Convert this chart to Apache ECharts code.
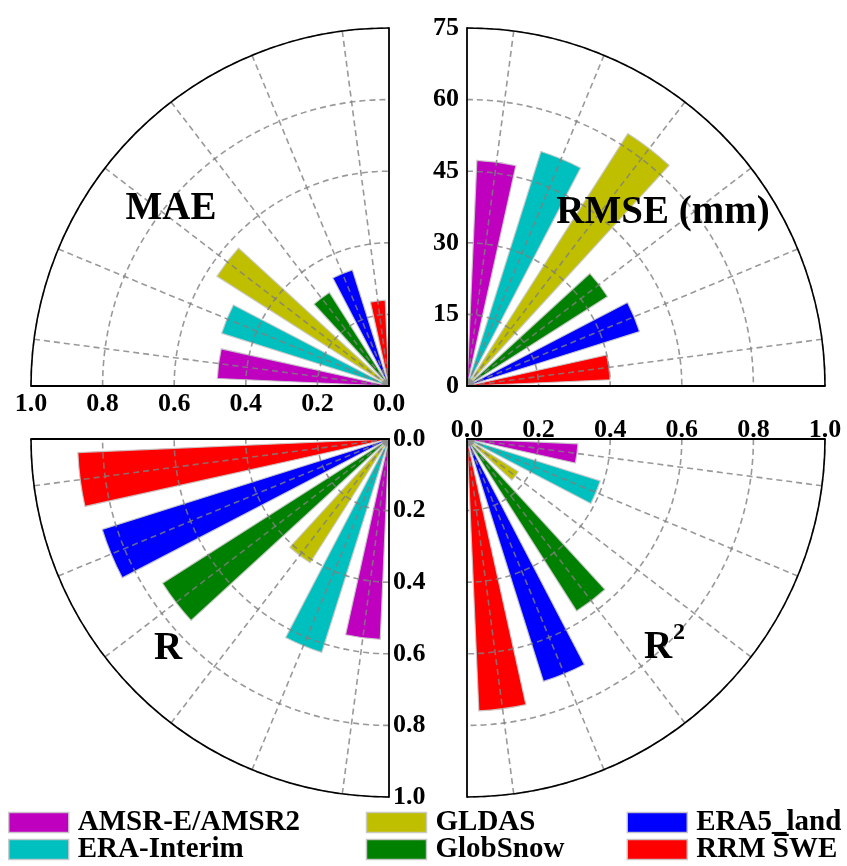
<!DOCTYPE html>
<html>
<head>
<meta charset="utf-8">
<script src="https://cdn.jsdelivr.net/npm/echarts@6/dist/echarts.min.js"></script>
<style>
  html, body { margin: 0; padding: 0; background: #fff; }
  #chart { width: 847px; height: 866px; }
</style>
</head>
<body>
<div id="chart"></div>
<script>
// Products compared in every panel (legend order)
const products = ['AMSR-E/AMSR2', 'ERA-Interim', 'GLDAS', 'GlobSnow', 'ERA5_land', 'RRM S\u0305WE'];
const colors = ['#bf00bf', '#00bfbf', '#bfbf00', '#008000', '#0000ff', '#ff0000'];

// Metric values per product
const maeValues  = [0.48, 0.49, 0.57, 0.31, 0.34, 0.24];
const rmseValues = [47.3, 51.5, 62.7, 34.9, 37.9, 30.0];
const rValues    = [0.56, 0.625, 0.41, 0.75, 0.84, 0.87];
const r2Values   = [0.31, 0.39, 0.17, 0.57, 0.71, 0.76];

// Radial scales
const unitMax = 1, unitStep = 0.2;
const rmseMax = 75, rmseStep = 15;

const FONT = '"Liberation Serif", "Times New Roman", serif';
const R = 358;

// Four quarter-disc panels: centre, angle of the labelled radius axis,
// angle of the other straight edge, values, scale, label margin
const panels = [
  { center: [389, 386], start: 180, edge: 90,  values: maeValues,  max: unitMax, step: unitStep, margin: 5, fmt: v => v.toFixed(1) },
  { center: [467, 386], start: 90,  edge: 0,   values: rmseValues, max: rmseMax, step: rmseStep, margin: 8, fmt: v => String(v) },
  { center: [389, 439], start: 270, edge: 180, values: rValues,    max: unitMax, step: unitStep, margin: 4, fmt: v => v.toFixed(1) },
  { center: [467, 439], start: 0,   edge: -90, values: r2Values,   max: unitMax, step: unitStep, margin: -4, fmt: v => v.toFixed(1) }
];

const gridLine = { color: 'rgba(128,128,128,0.8)', width: 1.6, type: [6, 4] };

const polar = [], angleAxis = [], radiusAxis = [], series = [];

panels.forEach((p, i) => {
  polar.push({ center: p.center, radius: R });
  angleAxis.push({
    polarIndex: i, type: 'category', data: products,
    startAngle: p.start, endAngle: p.start - 90, clockwise: true,
    boundaryGap: true,
    axisLine: { show: true, lineStyle: { color: '#000', width: 1.6 } },
    axisTick: { show: false, alignWithLabel: true },
    axisLabel: { show: false },
    splitLine: { show: true, lineStyle: gridLine },
    z: 5
  });
  radiusAxis.push({
    polarIndex: i, type: 'value', min: 0, max: p.max, interval: p.step,
    axisLine: { show: true, lineStyle: { color: '#000', width: 1.8 } },
    axisTick: { show: false },
    axisLabel: {
      show: true, color: '#000', fontFamily: FONT, fontWeight: 'bold', fontSize: 26,
      margin: p.margin, formatter: p.fmt
    },
    splitLine: { show: true, lineStyle: gridLine },
    z: 5
  });
  products.forEach((name, k) => {
    series.push({
      type: 'bar', name: name, coordinateSystem: 'polar', polarIndex: i,
      stack: 'panel' + i,
      data: products.map((_, j) => (j === k ? p.values[k] : '-')),
      barWidth: '66.7%',
      itemStyle: { color: colors[k], borderColor: 'rgba(200,200,200,0.9)', borderWidth: 1.2 },
      emphasis: { disabled: true },
      z: 2
    });
  });
});

// Second straight edge of each quarter-disc
panels.forEach((p, i) => {
  polar.push({ center: p.center, radius: R });
  angleAxis.push({
    polarIndex: 4 + i, type: 'value', min: 0, max: 1,
    startAngle: p.edge, endAngle: p.edge - 90, show: false
  });
  radiusAxis.push({
    polarIndex: 4 + i, type: 'value', min: 0, max: 1,
    axisLine: { show: true, lineStyle: { color: '#000', width: 1.8 } },
    axisTick: { show: false }, axisLabel: { show: false }, splitLine: { show: false },
    z: 5
  });
});

// Legend: three columns, two rows (row-wise order), column widths fixed by text width
const legendCols = [290, 193, 150];
const legendOrder = [0, 2, 4, 1, 3, 5];
const legend = {
  orient: 'horizontal', left: 8, top: 808, width: 840, padding: 0,
  itemWidth: 60, itemHeight: 20, itemGap: -2, icon: 'rect',
  itemStyle: { borderColor: 'rgba(200,200,200,0.9)', borderWidth: 1.5 },
  textStyle: {
    fontFamily: FONT, fontWeight: 'bold', fontSize: 29, color: '#000',
    lineHeight: 20, padding: [0, 0, 0, 4]
  },
  selectedMode: false,
  data: legendOrder.map((k, n) => ({ name: products[k], textStyle: { width: legendCols[n % 3] } }))
};

const titleStyle = { fontFamily: FONT, fontWeight: 'bold', fontSize: 39, fill: '#000', textAlign: 'center', textVerticalAlign: 'middle' };
const graphic = [
  { type: 'text', x: 171, y: 209, z: 10, style: Object.assign({}, titleStyle, { text: 'MAE' }) },
  { type: 'text', x: 663, y: 213, z: 10, style: Object.assign({}, titleStyle, { text: 'RMSE (mm)' }) },
  { type: 'text', x: 168, y: 649, z: 10, style: Object.assign({}, titleStyle, { text: 'R' }) },
  { type: 'text', x: 658, y: 648, z: 10, style: Object.assign({}, titleStyle, { text: 'R' }) },
  { type: 'text', x: 679, y: 633, z: 10, style: Object.assign({}, titleStyle, { text: '2', fontSize: 24 }) }
];

const chart = echarts.init(document.getElementById('chart'), null, { renderer: 'canvas' });
chart.setOption({
  backgroundColor: '#fff',
  animation: false,
  polar, angleAxis, radiusAxis, series, legend, graphic
});
</script>
</body>
</html>
